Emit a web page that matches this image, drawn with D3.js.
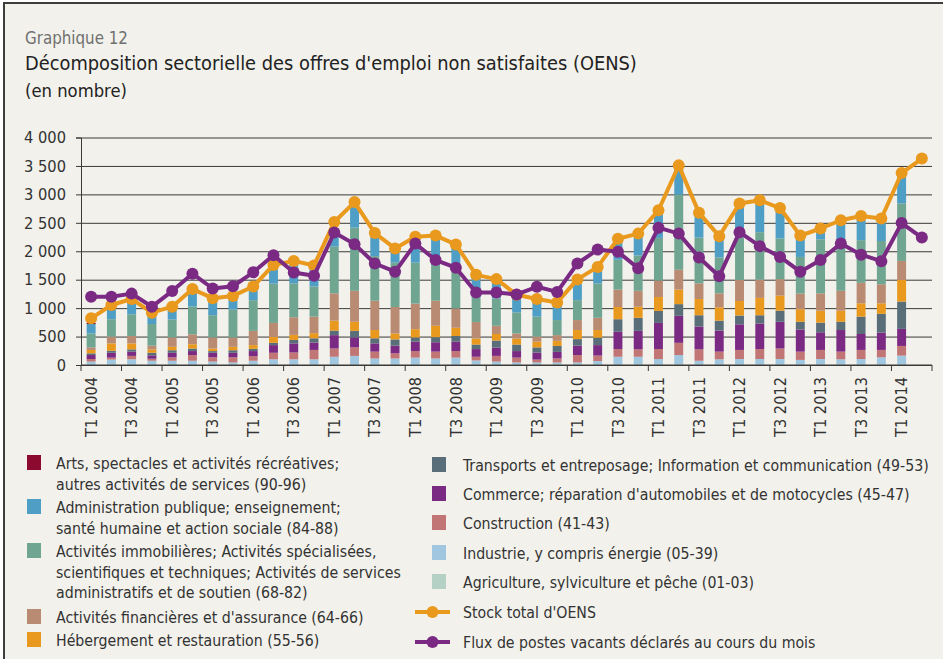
<!DOCTYPE html>
<html><head><meta charset="utf-8">
<script src="https://cdn.jsdelivr.net/npm/d3@7/dist/d3.min.js"></script>
<style>body{margin:0;background:#fff}svg{display:block}</style>
</head><body><svg id="c" width="943" height="659"></svg>
<script>
const quarters = ["T1 2004","T2 2004","T3 2004","T4 2004","T1 2005","T2 2005","T3 2005","T4 2005",
"T1 2006","T2 2006","T3 2006","T4 2006","T1 2007","T2 2007","T3 2007","T4 2007",
"T1 2008","T2 2008","T3 2008","T4 2008","T1 2009","T2 2009","T3 2009","T4 2009",
"T1 2010","T2 2010","T3 2010","T4 2010","T1 2011","T2 2011","T3 2011","T4 2011",
"T1 2012","T2 2012","T3 2012","T4 2012","T1 2013","T2 2013","T3 2013","T4 2013",
"T1 2014","T2 2014"];
const xLabels = ["T1 2004","T3 2004","T1 2005","T3 2005","T1 2006","T3 2006","T1 2007","T3 2007",
"T1 2008","T3 2008","T1 2009","T3 2009","T1 2010","T3 2010","T1 2011","T3 2011",
"T1 2012","T3 2012","T1 2013","T3 2013","T1 2014"];
const yTicks = [0,500,1000,1500,2000,2500,3000,3500,4000];

// stacked series, bottom to top (one value per quarter, T1 2004 .. T1 2014)
const agriculture  = [15,15,15,15,15,15,15,15,15,15,15,15,15,15,15,15,15,15,15,15,10,10,10,10,10,10,15,15,15,15,15,15,15,15,15,15,15,15,15,15,15];
const industrie    = [45,80,85,60,60,60,45,30,60,85,85,85,130,145,100,100,115,100,115,65,50,35,35,35,35,60,130,130,90,160,60,85,90,90,90,75,90,85,90,120,150];
const construction = [45,35,60,35,60,100,75,90,80,115,120,165,145,150,120,90,115,120,115,65,100,85,50,70,130,95,135,130,175,215,200,135,160,175,185,145,160,135,160,130,170];
const commerce     = [70,85,75,60,80,70,80,80,90,135,160,130,235,175,145,135,165,165,165,135,145,115,125,115,165,185,305,325,460,475,400,370,450,450,470,390,310,380,280,305,300];
const transports   = [30,35,40,45,45,45,30,45,40,40,60,75,80,115,90,110,75,90,100,80,125,115,90,105,115,130,220,230,210,205,200,175,155,145,195,135,170,145,305,330,480];
const hebergement  = [60,130,105,60,60,75,45,60,65,105,90,90,175,160,145,105,145,200,145,105,115,105,100,90,160,135,215,195,245,255,285,235,255,305,265,220,210,195,235,185,380];
const financieres  = [45,120,130,65,165,175,195,165,250,245,310,290,480,545,515,465,450,440,340,290,145,90,90,100,175,215,305,280,290,350,275,245,370,320,290,275,305,350,360,335,335];
const immobilieres = [245,305,380,380,315,490,390,490,540,690,595,530,820,1110,785,780,720,625,790,440,480,370,350,265,350,605,525,620,750,1320,805,630,750,835,715,645,950,875,750,760,1010];
const administration=[165,185,220,155,195,235,235,195,235,295,325,325,225,375,340,230,365,470,290,320,290,275,265,235,295,235,295,355,420,420,390,305,540,500,495,350,170,335,380,370,470];
const arts         = [20,15,15,15,15,15,15,15,15,20,20,20,20,20,20,20,20,20,30,15,15,15,15,15,15,15,15,15,20,20,20,20,20,20,20,20,20,20,20,20,20];

const stock = [820,1055,1160,920,1025,1335,1175,1215,1380,1760,1830,1750,2515,2865,2320,2050,2255,2275,2120,1585,1510,1235,1160,1100,1505,1725,2220,2310,2720,3510,2675,2265,2840,2895,2760,2275,2400,2545,2620,2575,3375,3630];
const flux  = [1200,1200,1255,1025,1300,1605,1345,1385,1630,1930,1625,1570,2330,2125,1785,1640,2135,1845,1710,1275,1275,1240,1375,1285,1785,2030,1990,1700,2415,2310,1890,1560,2335,2090,1900,1640,1845,2135,1940,1825,2495,2240];

const seriesNames = ["Agriculture, sylviculture et pêche (01-03)","Industrie, y compris énergie (05-39)","Construction (41-43)",
"Commerce; réparation d'automobiles et de motocycles (45-47)","Transports et entreposage; Information et communication (49-53)",
"Hébergement et restauration (55-56)","Activités financières et d'assurance (64-66)",
"Activités immobilières; Activités spécialisées, scientifiques et techniques; Activités de services administratifs et de soutien (68-82)",
"Administration publique; enseignement; santé humaine et action sociale (84-88)",
"Arts, spectacles et activités récréatives; autres activités de services (90-96)"];
const seriesData = [agriculture,industrie,construction,commerce,transports,hebergement,financieres,immobilieres,administration,arts];
const seriesColors = ["#b5d1c6","#a0c7df","#c17575","#7b2a84","#5a6e7a","#e99a1e","#b98b73","#6fa591","#4f9ec5","#8b0a2e"];
const stockColor = "#e99a1e", fluxColor = "#7b2a84";

const FONT = "'Liberation Sans Narrow','Arial Narrow','DejaVu Sans Condensed','Roboto',sans-serif";
const svg = d3.select("#c");
function fit(sel, w){ const cur = sel.node().getComputedTextLength(); const fs = parseFloat(sel.attr("font-size")); const nf = fs*w/cur; sel.attr("font-size", nf.toFixed(2)); return nf; }

// frame
svg.append("rect").attr("width",943).attr("height",659).attr("fill","#fff");
svg.append("rect").attr("x",4).attr("y",3).attr("width",960).attr("height",670)
  .attr("fill","#f2f1eb").attr("stroke","#3d3d3d").attr("stroke-width",2);

// titles
const t0 = svg.append("text").attr("x",25).attr("y",44).attr("font-family",FONT).attr("font-size",15).attr("fill","#707070").text("Graphique 12");
fit(t0,103);
const t1 = svg.append("text").attr("x",25).attr("y",70).attr("font-family",FONT).attr("font-size",20).attr("fill","#222").text("Décomposition sectorielle des offres d'emploi non satisfaites (OENS)");
fit(t1,612);
const t2 = svg.append("text").attr("x",25).attr("y",97).attr("font-family",FONT).attr("font-size",16).attr("fill","#222").text("(en nombre)");
fit(t2,102);

// scales
const x0 = 81, x1 = 932;
const x = d3.scaleBand().domain(quarters).range([x0,x1]).paddingInner(0.56).paddingOuter(0.28);
const step = x.step();
const cx = d => x(d) + x.bandwidth()/2;
const y = d3.scaleLinear().domain([0,4000]).range([365,137.5]);

// gridlines
svg.append("g").attr("transform",`translate(${x0},0)`)
  .call(d3.axisLeft(y).tickValues(yTicks).tickSize(-(x1-x0)).tickFormat(""))
  .call(g=>g.select(".domain").remove())
  .call(g=>g.selectAll("line").attr("stroke","#3a3a3a").attr("stroke-width",1));

// y axis
const fmt = v => d3.format(",")(v).replace(/,/g," ");
const yAx = svg.append("g").attr("transform",`translate(${x0},0)`)
  .call(d3.axisLeft(y).tickValues(yTicks).tickSize(5).tickPadding(10).tickFormat(fmt));
yAx.select(".domain").attr("stroke","#3a3a3a");
yAx.selectAll("line").attr("stroke","#3a3a3a");
yAx.selectAll("text").attr("font-family",FONT).attr("font-size",18).attr("fill","#333");
{ const tt = yAx.selectAll("text").filter(d=>d===4000); const nf = fit(tt,42); yAx.selectAll("text").attr("font-size",nf.toFixed(2)); }

// stacked bars
const barQuarters = quarters.slice(0, agriculture.length);
const rows = barQuarters.map((q,i)=>{ const o={q}; seriesData.forEach((s,k)=>o["s"+k]=s[i]); return o; });
const stack = d3.stack().keys(seriesData.map((s,k)=>"s"+k))(rows);
svg.append("g").selectAll("g").data(stack).join("g").attr("fill",(d,k)=>seriesColors[k])
  .selectAll("rect").data(d=>d).join("rect")
  .attr("x",d=>x(d.data.q)).attr("width",x.bandwidth())
  .attr("y",d=>y(d[1])).attr("height",d=>y(d[0])-y(d[1]));

// x axis
const xAx = svg.append("g").attr("transform","translate(0,365)");
xAx.append("line").attr("x1",x0).attr("x2",x1).attr("stroke","#3a3a3a").attr("stroke-width",1.2);
const tickIdx = d3.range(0, quarters.length+1, 2);
xAx.selectAll("line.tk").data(tickIdx).join("line").attr("class","tk")
  .attr("x1",i=>x0+i*step).attr("x2",i=>x0+i*step).attr("y1",0).attr("y2",6).attr("stroke","#3a3a3a");
const xl = svg.append("g").selectAll("text").data(xLabels).join("text")
  .attr("transform",d=>`translate(${cx(d)},377) rotate(-90)`)
  .attr("text-anchor","end").attr("dy","0.35em")
  .attr("font-family",FONT).attr("font-size",18).attr("fill","#333").text(d=>d);
{ const nf = fit(d3.select(xl.nodes()[0]),60); xl.attr("font-size",nf.toFixed(2)); }

// lines
function drawLine(vals,color){
  const pts = vals.map((v,i)=>[cx(quarters[i]), y(v)]);
  svg.append("path").attr("d",d3.line()(pts)).attr("fill","none").attr("stroke",color).attr("stroke-width",4).attr("stroke-linejoin","round");
  svg.append("g").selectAll("circle").data(pts).join("circle").attr("cx",d=>d[0]).attr("cy",d=>d[1]).attr("r",6).attr("fill",color);
}
drawLine(stock, stockColor);
drawLine(flux, fluxColor);

// legend
const lg = svg.append("g").attr("font-family",FONT).attr("fill","#333");
const ref = lg.append("text").attr("x",463).attr("y",471).attr("font-size",16).text(seriesNames[4]);
const lfs = fit(ref,466);
const leftItems = [
  {k:9, lines:["Arts, spectacles et activités récréatives;","autres activités de services (90-96)"], top:455},
  {k:8, lines:["Administration publique; enseignement;","santé humaine et action sociale (84-88)"], top:499},
  {k:7, lines:["Activités immobilières; Activités spécialisées,","scientifiques et techniques; Activités de services","administratifs et de soutien (68-82)"], top:543},
  {k:6, lines:["Activités financières et d'assurance (64-66)"], top:609},
  {k:5, lines:["Hébergement et restauration (55-56)"], top:632}
];
leftItems.forEach(it=>{
  lg.append("rect").attr("x",27).attr("y",it.top).attr("width",14).attr("height",15).attr("fill",seriesColors[it.k]);
  it.lines.forEach((ln,j)=>lg.append("text").attr("x",56).attr("y",it.top+14+j*20.5).attr("font-size",lfs).text(ln));
});
const rightItems = [
  {k:3, text:seriesNames[3], top:486},
  {k:2, text:seriesNames[2], top:515},
  {k:1, text:seriesNames[1], top:545},
  {k:0, text:seriesNames[0], top:574}
];
lg.append("rect").attr("x",432).attr("y",457).attr("width",14).attr("height",15).attr("fill",seriesColors[4]);
rightItems.forEach(it=>{
  lg.append("rect").attr("x",432).attr("y",it.top).attr("width",14).attr("height",15).attr("fill",seriesColors[it.k]);
  lg.append("text").attr("x",463).attr("y",it.top+14).attr("font-size",lfs).text(it.text);
});
[[stockColor,"Stock total d'OENS",612],[fluxColor,"Flux de postes vacants déclarés au cours du mois",642]].forEach(([c,t,yy])=>{
  lg.append("line").attr("x1",415).attr("x2",450).attr("y1",yy).attr("y2",yy).attr("stroke",c).attr("stroke-width",4);
  lg.append("circle").attr("cx",432.5).attr("cy",yy).attr("r",6).attr("fill",c);
  lg.append("text").attr("x",463).attr("y",yy+6).attr("font-size",lfs).text(t);
});
</script></body></html>
